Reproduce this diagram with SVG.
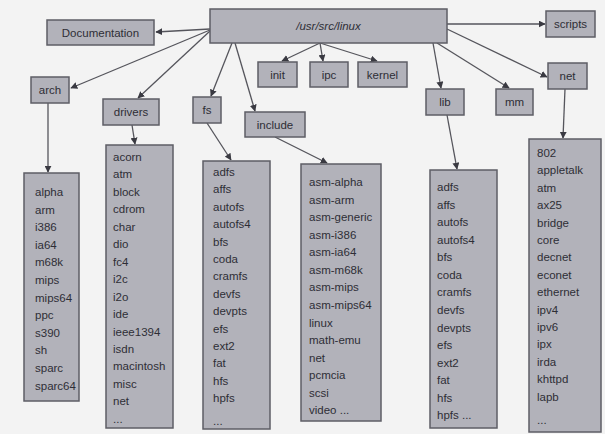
<svg xmlns="http://www.w3.org/2000/svg" width="605" height="434" viewBox="0 0 605 434">
<style>
.b{fill:#b2b2ba;stroke:#5e5e66;stroke-width:1.5}
text{font-family:"Liberation Sans",Arial,sans-serif;font-size:11.5px;fill:#2e2e36}
.c{text-anchor:middle}
.e{stroke:#55555c;stroke-width:1.3;fill:none;marker-end:url(#a)}
</style>
<defs>
<marker id="a" viewBox="0 0 10 10" refX="9" refY="5" markerWidth="7" markerHeight="7" markerUnits="userSpaceOnUse" orient="auto">
<path d="M0,0L10,5L0,10z" fill="#3a3a42"/>
</marker>
</defs>
<rect width="605" height="434" fill="#f3f3f3"/>
<g id="connectors">
<line class="e" x1="210" y1="29" x2="156" y2="32"/>
<line class="e" x1="210" y1="30" x2="71" y2="88"/>
<line class="e" x1="210" y1="31" x2="138" y2="98"/>
<line class="e" x1="232" y1="43" x2="211" y2="96"/>
<line class="e" x1="235" y1="43" x2="255" y2="111"/>
<line class="e" x1="320" y1="43" x2="282" y2="61"/>
<line class="e" x1="320" y1="43" x2="323" y2="61"/>
<line class="e" x1="320" y1="43" x2="377" y2="61"/>
<line class="e" x1="433" y1="43" x2="441" y2="88"/>
<line class="e" x1="437" y1="43" x2="509" y2="88"/>
<line class="e" x1="447" y1="24" x2="545" y2="24"/>
<line class="e" x1="447" y1="29" x2="547" y2="77"/>
<line class="e" x1="48" y1="103" x2="48" y2="172"/>
<line class="e" x1="132" y1="125" x2="135" y2="144"/>
<line class="e" x1="207" y1="123" x2="231" y2="160"/>
<line class="e" x1="275" y1="137" x2="327" y2="163"/>
<line class="e" x1="447" y1="115" x2="457" y2="169"/>
<line class="e" x1="565" y1="89" x2="563" y2="138"/>
</g>
<g id="root"><rect class="b" x="210" y="9" width="237" height="34"/><text class="c" x="328.5" y="30" font-style="italic">/usr/src/linux</text></g>
<g id="documentation"><rect class="b" x="47" y="20" width="107" height="25"/><text class="c" x="100.5" y="37">Documentation</text></g>
<g id="scripts"><rect class="b" x="546" y="11" width="49" height="26"/><text class="c" x="570.5" y="28">scripts</text></g>
<g id="arch"><rect class="b" x="31" y="77" width="38" height="26"/><text class="c" x="50" y="94">arch</text></g>
<g id="drivers"><rect class="b" x="103" y="99" width="56" height="26"/><text class="c" x="131" y="116">drivers</text></g>
<g id="fs"><rect class="b" x="193" y="97" width="28" height="26"/><text class="c" x="207" y="114">fs</text></g>
<g id="include"><rect class="b" x="245" y="112" width="60" height="25"/><text class="c" x="275" y="128.5">include</text></g>
<g id="init"><rect class="b" x="258" y="62" width="39" height="25"/><text class="c" x="277.5" y="78.5">init</text></g>
<g id="ipc"><rect class="b" x="310" y="62" width="38" height="25"/><text class="c" x="329" y="78.5">ipc</text></g>
<g id="kernel"><rect class="b" x="358" y="62" width="49" height="25"/><text class="c" x="382.5" y="78.5">kernel</text></g>
<g id="lib"><rect class="b" x="426" y="89" width="38" height="26"/><text class="c" x="445" y="106">lib</text></g>
<g id="mm"><rect class="b" x="496" y="89" width="37" height="26"/><text class="c" x="514.5" y="106">mm</text></g>
<g id="net"><rect class="b" x="548" y="63" width="39" height="26"/><text class="c" x="567.5" y="80">net</text></g>
<g id="arch-list"><rect class="b" x="24" y="173" width="55" height="228"/>
<text x="35" y="196">alpha</text><text x="35" y="213.6">arm</text><text x="35" y="231.2">i386</text><text x="35" y="248.8">ia64</text><text x="35" y="266.4">m68k</text><text x="35" y="284">mips</text><text x="35" y="301.6">mips64</text><text x="35" y="319.2">ppc</text><text x="35" y="336.8">s390</text><text x="35" y="354.4">sh</text><text x="35" y="372">sparc</text><text x="35" y="389.6">sparc64</text>
</g>
<g id="drivers-list"><rect class="b" x="106" y="145" width="67" height="283"/>
<text x="113" y="161">acorn</text><text x="113" y="178.4">atm</text><text x="113" y="195.9">block</text><text x="113" y="213.3">cdrom</text><text x="113" y="230.8">char</text><text x="113" y="248.2">dio</text><text x="113" y="265.7">fc4</text><text x="113" y="283.1">i2c</text><text x="113" y="300.6">i2o</text><text x="113" y="318">ide</text><text x="113" y="335.5">ieee1394</text><text x="113" y="352.9">isdn</text><text x="113" y="370.4">macintosh</text><text x="113" y="387.8">misc</text><text x="113" y="405.3">net</text><text x="113" y="423">...</text>
</g>
<g id="fs-list"><rect class="b" x="203" y="161" width="67" height="268"/>
<text x="213" y="176">adfs</text><text x="213" y="193.4">affs</text><text x="213" y="210.8">autofs</text><text x="213" y="228.2">autofs4</text><text x="213" y="245.6">bfs</text><text x="213" y="263">coda</text><text x="213" y="280.4">cramfs</text><text x="213" y="297.8">devfs</text><text x="213" y="315.2">devpts</text><text x="213" y="332.6">efs</text><text x="213" y="350">ext2</text><text x="213" y="367.4">fat</text><text x="213" y="384.8">hfs</text><text x="213" y="402.2">hpfs</text><text x="213" y="425">...</text>
</g>
<g id="include-list"><rect class="b" x="301" y="164" width="80" height="257"/>
<text x="309" y="186">asm-alpha</text><text x="309" y="203.6">asm-arm</text><text x="309" y="221.1">asm-generic</text><text x="309" y="238.7">asm-i386</text><text x="309" y="256.2">asm-ia64</text><text x="309" y="273.8">asm-m68k</text><text x="309" y="291.4">asm-mips</text><text x="309" y="308.9">asm-mips64</text><text x="309" y="326.5">linux</text><text x="309" y="344">math-emu</text><text x="309" y="361.6">net</text><text x="309" y="379.2">pcmcia</text><text x="309" y="396.7">scsi</text><text x="309" y="414.3">video ...</text>
</g>
<g id="lib-list"><rect class="b" x="430" y="170" width="67" height="258"/>
<text x="437" y="191">adfs</text><text x="437" y="208.6">affs</text><text x="437" y="226.1">autofs</text><text x="437" y="243.7">autofs4</text><text x="437" y="261.2">bfs</text><text x="437" y="278.8">coda</text><text x="437" y="296.4">cramfs</text><text x="437" y="313.9">devfs</text><text x="437" y="331.5">devpts</text><text x="437" y="349">efs</text><text x="437" y="366.6">ext2</text><text x="437" y="384.2">fat</text><text x="437" y="401.7">hfs</text><text x="437" y="419.3">hpfs ...</text>
</g>
<g id="net-list"><rect class="b" x="529" y="139" width="72" height="293"/>
<text x="537" y="157">802</text><text x="537" y="174.4">appletalk</text><text x="537" y="191.8">atm</text><text x="537" y="209.2">ax25</text><text x="537" y="226.6">bridge</text><text x="537" y="244">core</text><text x="537" y="261.4">decnet</text><text x="537" y="278.8">econet</text><text x="537" y="296.2">ethernet</text><text x="537" y="313.6">ipv4</text><text x="537" y="331">ipv6</text><text x="537" y="348.4">ipx</text><text x="537" y="365.8">irda</text><text x="537" y="383.2">khttpd</text><text x="537" y="400.6">lapb</text><text x="537" y="424">...</text>
</g>
</svg>
